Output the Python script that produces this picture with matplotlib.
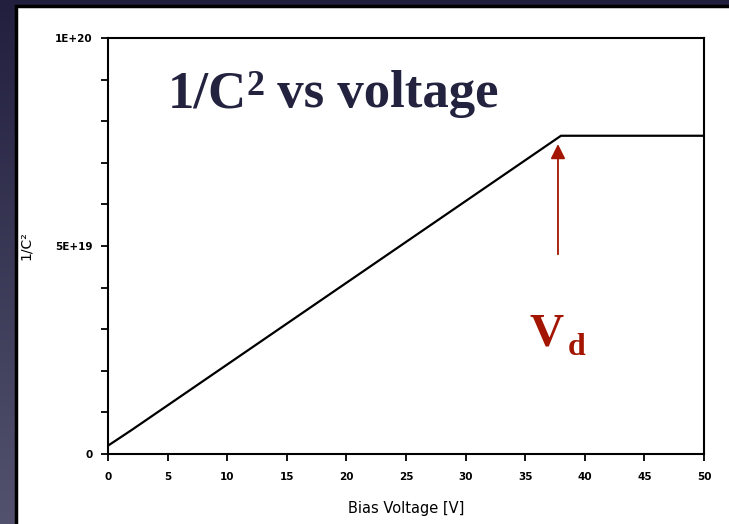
import numpy as np
import matplotlib.pyplot as plt
from matplotlib.patches import Rectangle
from matplotlib.colors import LinearSegmentedColormap

# Data
bias_v = [0, 2, 38, 50]
inv_c2 = [0.2e19, 0.58e19, 7.65e19, 7.65e19]
x_ticks = list(range(0, 55, 5))
y_major = [0, 5e19, 1e20]
y_major_labels = ["0", "5E+19", "1E+20"]
y_minor = [i * 1e19 for i in range(11)]
vd = 37.75

navy = "#23223f"
red = "#a31500"

fig = plt.figure(figsize=(7.29, 5.24), dpi=100)

# gradient background
bg = fig.add_axes([0, 0, 1, 1], zorder=-10)
grad = np.linspace(0, 1, 256).reshape(-1, 1)
cmap = LinearSegmentedColormap.from_list("bg", ["#211f3d", "#52526f"])
bg.imshow(grad, aspect="auto", cmap=cmap, extent=[0, 1, 0, 1], origin="upper")
bg.set_xlim(0, 1)
bg.set_ylim(0, 1)
bg.axis("off")

# white panel with dark border
W, H = 729, 524
panel = Rectangle((16 / W, -0.01), 1.0, (524 - 6) / H + 0.01, transform=fig.transFigure,
                  facecolor="white", edgecolor="black", linewidth=2.5, zorder=-5)
fig.patches.append(panel)

ax = fig.add_axes([108 / W, (524 - 454) / H, (704 - 108) / W, (454 - 38) / H])
ax.plot(bias_v, inv_c2, color="black", linewidth=1.6)
ax.set_xlim(0, 50)
ax.set_ylim(0, 1e20)

ax.set_xticks(x_ticks)
ax.set_xticklabels([str(t) for t in x_ticks])
ax.set_yticks(y_major)
ax.set_yticklabels(y_major_labels)
ax.set_yticks(y_minor, minor=True)
ax.tick_params(axis="both", which="both", direction="out", length=5, width=1.3,
               labelsize=7.5, colors="black")
ax.tick_params(axis="x", pad=8)
ax.tick_params(axis="y", pad=6)
for s in ax.spines.values():
    s.set_linewidth(1.5)

for lab in ax.get_xticklabels() + ax.get_yticklabels():
    lab.set_fontfamily("DejaVu Sans")
    lab.set_fontweight("bold")

ax.set_xlabel("Bias Voltage [V]", fontsize=10.5, family="DejaVu Sans", labelpad=14)
ax.set_ylabel("1/C\u00b2", fontsize=10, family="DejaVu Sans", labelpad=16)

# title drawn in pieces so the superscript sits right after the C
serif = dict(fontweight="bold", family="Liberation Serif", color=navy)
renderer = fig.canvas.get_renderer()
t1 = fig.text(168 / W, (524 - 107) / H, "1/C", fontsize=38, va="baseline", **serif)
w1 = t1.get_window_extent(renderer).width - 1
t2 = fig.text(168 / W + w1 / W, (524 - 95) / H, "2", fontsize=26, va="baseline", **serif)
w2 = t2.get_window_extent(renderer).width
fig.text(168 / W + (w1 + w2) / W, (524 - 107) / H, " vs voltage", fontsize=38,
         va="baseline", **serif)

ax.annotate("", xy=(vd, 7.45e19), xytext=(vd, 4.8e19),
            arrowprops=dict(arrowstyle="-|>", color=red, lw=1.3,
                            mutation_scale=22, shrinkA=0, shrinkB=0))

ax.text(36.8, 2.62e19, "V", fontsize=34, fontweight="bold", family="Liberation Serif",
        color=red, ha="center", va="baseline")
ax.text(39.3, 2.38e19, "d", fontsize=23, fontweight="bold", family="Liberation Serif",
        color=red, ha="center", va="baseline")

fig.savefig("out.png", dpi=100)
